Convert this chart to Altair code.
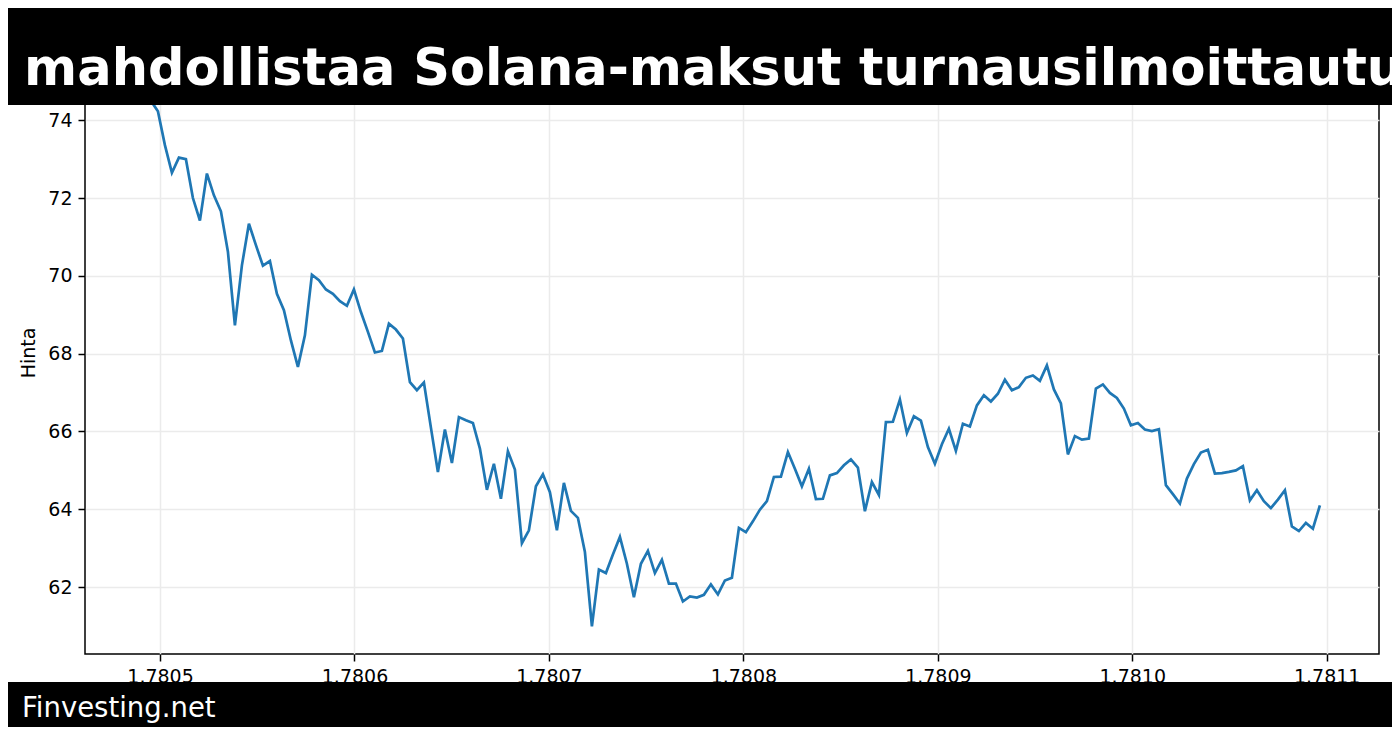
import altair as alt
import pandas as pd

# ---- data ----
START_X = 1.7804917      # first timestamp (x1e9)
STEP_X = 0.0000036       # hourly step
prices = [
    75.10, 74.50, 74.23, 73.36, 72.65, 73.04, 73.00, 72.00, 71.42, 72.63,
    72.07, 71.66, 70.62, 68.73, 70.27, 71.34, 70.79, 70.26, 70.38, 69.54,
    69.12, 68.34, 67.66, 68.47, 70.03, 69.89, 69.65, 69.54, 69.35, 69.23,
    69.65, 69.07, 68.56, 68.03, 68.07, 68.77, 68.62, 68.39, 67.27, 67.06,
    67.26, 66.10, 64.96, 66.05, 65.19, 66.37, 66.29, 66.22, 65.56, 64.50,
    65.17, 64.27, 65.49, 65.02, 63.13, 63.46, 64.59, 64.90, 64.44, 63.46,
    64.68, 63.96, 63.78, 62.90, 60.99, 62.45, 62.36, 62.84, 63.29, 62.60,
    61.74, 62.60, 62.93, 62.36, 62.70, 62.09, 62.09, 61.63, 61.76, 61.73,
    61.80, 62.07, 61.81, 62.17, 62.24, 63.52, 63.41, 63.69, 63.99, 64.21,
    64.83, 64.84, 65.47, 65.04, 64.59, 65.04, 64.26, 64.27, 64.87, 64.93,
    65.13, 65.28, 65.07, 63.95, 64.70, 64.37, 66.24, 66.25, 66.82, 65.96,
    66.39, 66.28, 65.60, 65.17, 65.67, 66.07, 65.50, 66.20, 66.13, 66.67,
    66.93, 66.77, 66.97, 67.33, 67.06, 67.14, 67.38, 67.44, 67.30, 67.70,
    67.08, 66.72, 65.41, 65.88, 65.79, 65.82, 67.10, 67.21, 66.99, 66.86,
    66.59, 66.16, 66.22, 66.05, 66.01, 66.06, 64.62, 64.39, 64.15, 64.79,
    65.16, 65.46, 65.53, 64.92, 64.93, 64.96, 65.00, 65.11, 64.23, 64.49,
    64.21, 64.03, 64.25, 64.49, 63.56, 63.44, 63.65, 63.50, 64.10,
]
times = [START_X + i * STEP_X for i in range(len(prices))]
x_ticks = [1.7805, 1.7806, 1.7807, 1.7808, 1.7809, 1.7810, 1.7811]
y_ticks = [62, 64, 66, 68, 70, 72, 74]
title_text = "WSOP mahdollistaa Solana-maksut turnausilmoittautumisiin"
footer_text = "Finvesting.net"
y_label = "Hinta"

df = pd.DataFrame({"t": times, "hinta": prices})
one = pd.DataFrame({"k": [0]})

W, H = 1294, 603
PAD_L, PAD_T = 77, 43
TOTAL_W, TOTAL_H = 1384, 719
FONT = "DejaVu Sans"

line = alt.Chart(df).mark_line(color="#1f77b4", strokeWidth=2.7).encode(
    x=alt.X("t:Q",
            scale=alt.Scale(domain=[1.7804614, 1.7811269], nice=False, zero=False),
            axis=alt.Axis(values=x_ticks, format=".4f", title=None, grid=True,
                          gridColor="#ebebeb", gridWidth=1.5, domain=False,
                          tickColor="black", tickWidth=1.5, tickSize=7,
                          labelPadding=6, labelFont=FONT, labelFontSize=19,
                          labelColor="black", labelFlush=False)),
    y=alt.Y("hinta:Q",
            scale=alt.Scale(domain=[60.28, 75.78], nice=False, zero=False),
            axis=alt.Axis(values=y_ticks, format="d", title=y_label, grid=True,
                          gridColor="#ebebeb", gridWidth=1.5, domain=False,
                          tickColor="black", tickWidth=1.5, tickSize=7,
                          labelPadding=6, labelFont=FONT, labelFontSize=19,
                          labelColor="black",
                          titleFont=FONT, titleFontSize=19, titleFontWeight="normal",
                          titleColor="black", titleAngle=270, titleAlign="center",
                          titleBaseline="alphabetic", titleX=-51, titleY=H / 2)),
)

banner = alt.Chart(one).mark_rect(color="black").encode(
    x=alt.value(-PAD_L), x2=alt.value(TOTAL_W - PAD_L),
    y=alt.value(-PAD_T), y2=alt.value(97 - PAD_T),
)
banner_text = alt.Chart(one).mark_text(
    text=title_text, color="white", font=FONT, fontSize=51, fontWeight="bold",
    align="center", baseline="alphabetic",
).encode(x=alt.value(696 - PAD_L), y=alt.value(77 - PAD_T))

footer = alt.Chart(one).mark_rect(color="black").encode(
    x=alt.value(-PAD_L), x2=alt.value(TOTAL_W - PAD_L),
    y=alt.value(674 - PAD_T), y2=alt.value(TOTAL_H - PAD_T + 10),
)
footer_txt = alt.Chart(one).mark_text(
    text=footer_text, color="white", font=FONT, fontSize=27.5,
    align="left", baseline="alphabetic",
).encode(x=alt.value(14 - PAD_L), y=alt.value(709 - PAD_T))

chart = alt.layer(line, banner, banner_text, footer, footer_txt).properties(
    width=W, height=H,
    autosize=alt.AutoSizeParams(type="none"),
    padding={"left": PAD_L, "top": PAD_T, "right": TOTAL_W - PAD_L - W,
             "bottom": TOTAL_H - PAD_T - H},
    background="white",
).configure_view(stroke="black", strokeWidth=1.5)

chart.save("out.html", embed_options={"renderer": "svg", "actions": False})
